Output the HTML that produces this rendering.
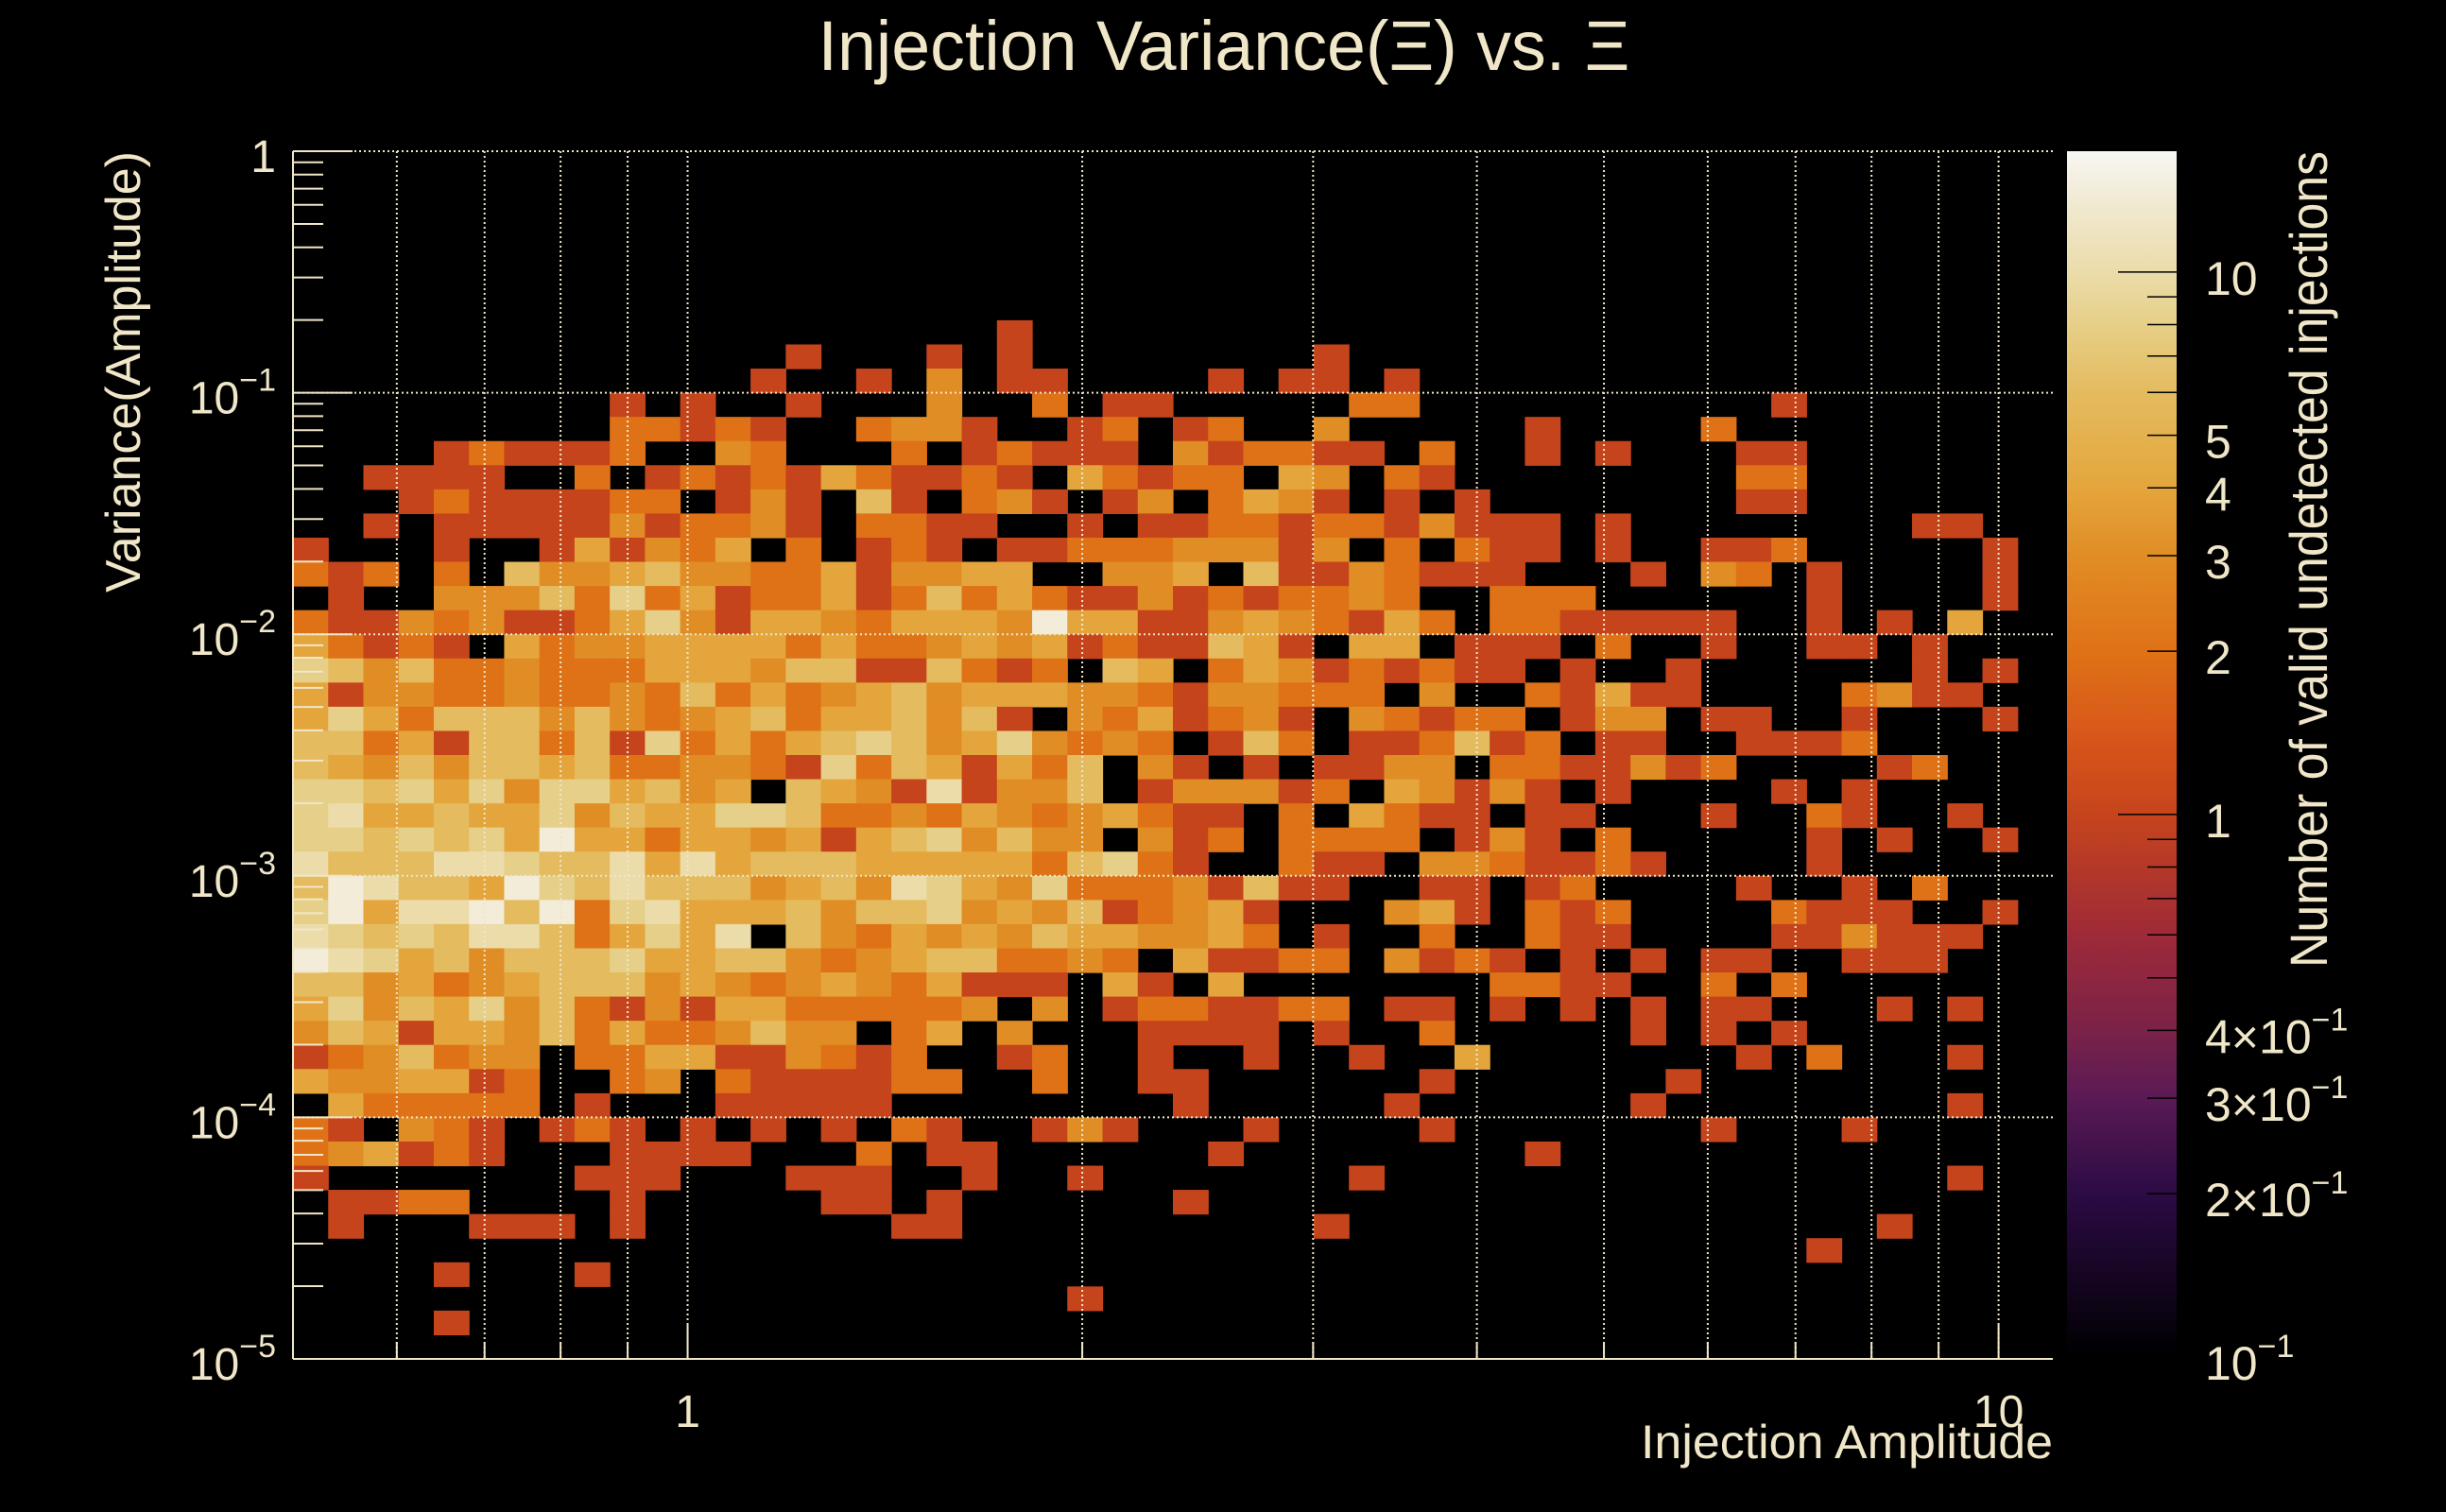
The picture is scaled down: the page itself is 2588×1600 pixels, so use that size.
<!DOCTYPE html>
<html>
<head>
<meta charset="utf-8">
<style>
  html,body{margin:0;padding:0;background:#000;}
  svg{display:block;}
  text{font-family:"Liberation Sans",Arial,sans-serif;fill:#f0e6c8;}
</style>
</head>
<body>
<svg id="chart" xmlns="http://www.w3.org/2000/svg" width="2588" height="1600" viewBox="0 0 2588 1600">
  <rect x="0" y="0" width="2588" height="1600" fill="#000"/>
  <text x="1295" y="74" font-size="74" text-anchor="middle" textLength="859" lengthAdjust="spacingAndGlyphs">Injection Variance(Ξ) vs. Ξ</text>
  <g id="cells"></g>
  <g id="grid"></g>
  <g id="axes"></g>
  <g id="cbar"></g>
  <text transform="translate(148,160) rotate(-90)" font-size="52" text-anchor="end" textLength="467" lengthAdjust="spacingAndGlyphs">Variance(Amplitude)</text>
  <text x="2172" y="1543" font-size="50" text-anchor="end" textLength="436" lengthAdjust="spacingAndGlyphs">Injection Amplitude</text>
  <text transform="translate(2462,160) rotate(-90)" font-size="56" text-anchor="end" textLength="864" lengthAdjust="spacingAndGlyphs">Number of valid undetected injections</text>
</svg>
<script>
// ---- data ----
const xRange = [0.5, 11];          // injection amplitude range (log bins)
const yRange = [1e-5, 1];          // variance range (log bins)
const nXBins = 50;
const nYBins = 50;
const zRange = [0.1, 16.7];        // colour scale range
const levelCounts = [0, 1, 2, 3, 4, 6, 8, 10, 14];   // code -> count
const xTickLabels = ["1", "10"];
const xTickValues = [1, 10];
const yTickExps = [0, -1, -2, -3, -4, -5];
const zTickValues = [10, 5, 4, 3, 2, 1, 0.4, 0.3, 0.2, 0.1];
const zTickLabels = ["10", "5", "4", "3", "2", "1", "4×10|−1", "3×10|−1", "2×10|−1", "10|−1"];
// row specs: index = row from top (0 = highest variance). "col:code" or "a-b:code"
const rowSpecs = [];
rowSpecs[7]  = "20:1";
rowSpecs[8]  = "14:1 18:1 20:1 29:1";
rowSpecs[9]  = "13:1 16:1 18:3 20-21:1 26:1 28-29:1 31:1";
rowSpecs[10] = "9:1 11:1 14:1 18:3 21:2 23-24:1 30-31:2 42:1";
rowSpecs[11] = "9-10:2 11:1 12:2 13:1 16:2 17-18:3 19:1 22:1 23:2 25:1 26:2 29:3 35:1 40:2";
rowSpecs[12] = "4:1 5:2 6-8:1 9:2 12:3 13:2 17:2 19:1 20:2 21-23:1 25:3 26:1 27-28:2 29-30:1 32:2 35:1 37:1 41-42:1";
rowSpecs[13] = "2-5:1 8:2 10:1 11:2 12:1 13:2 14:1 15:4 16:2 17-18:1 19:2 20:1 22:4 23:2 24:1 25-26:2 28:4 29:3 31:2 32:1 41-42:2";
rowSpecs[14] = "3:1 4:2 5-8:1 9-10:2 12:1 13:3 14:1 16:5 17:1 19:2 20:3 21:1 23:1 24:3 26:2 27:4 28:3 29:1 31:1 33:1 41-42:1";
rowSpecs[15] = "2:1 4-8:1 9:3 10:1 11-12:2 13:3 14:1 16-17:2 18-19:1 22:1 24:1 25:1 26-27:2 28:1 29-30:2 31:1 32:3 33-35:1 37:1 46-47:1";
rowSpecs[16] = "0:1 4:1 7:1 8:4 9:1 10:3 11:2 12:4 14:2 16:1 17:2 18:1 20-21:1 22-24:2 25-27:3 28:1 29:3 31:2 33:2 34-35:1 37:1 40-41:1 42:2 48:1";
rowSpecs[17] = "0:2 1:1 2:2 4:2 6:5 7-8:3 9:4 10:5 11-12:3 13-14:2 15:4 16:1 17-18:3 19-20:4 23-24:3 25:4 27:5 28-29:1 30:3 31:2 32-34:1 38:1 40:3 41:2 43:1 48:1";
rowSpecs[18] = "1:1 4-6:3 7:5 8:2 9:6 10:2 11:4 12:1 13-14:2 15:4 16:1 17:2 18:5 19:2 20:4 21:2 22-23:1 24:3 25:1 26:2 27:1 28-29:2 30:3 31:2 34-36:2 43:1 48:1";
rowSpecs[19] = "0:2 1-2:1 3:3 4:2 5:3 6-7:1 8:2 9:4 10:6 11:3 12:1 13-14:4 15:3 16:2 17-19:4 20:3 21:8 22-23:4 24-25:1 26:3 27:4 28:3 29:2 30:1 31:4 32:2 34-35:2 36-40:1 43:1 45:1 47:4";
rowSpecs[20] = "0:4 1:2 2:1 3:2 4:1 6:4 7:2 8-9:3 10-13:4 14:2 15:4 16-17:2 18:3 19:4 20:3 21:4 22:1 23:2 24-25:1 26:5 27:4 28:1 30-31:4 33-35:1 37:2 40:1 43-44:1 46:1";
rowSpecs[21] = "0:6 1:5 2:3 3:5 4-5:2 6:3 7-9:2 10-12:4 13:3 14-15:5 16-17:1 18:5 19:2 20:1 21:2 23:5 24:4 26:2 27:4 28:3 29:1 30:2 31:1 32:2 33-34:1 36:1 39:1 46:1 48:1";
rowSpecs[22] = "0:4 1:1 2-3:3 4-5:2 6:3 7-8:2 9:3 10:2 11:5 12:2 13:4 14:2 15:3 16:4 17:5 18:3 19-21:4 22-23:3 24:2 25:1 26-27:3 28-30:2 32:3 35:2 36:1 37:4 38-39:1 44:2 45:3 46-47:1";
rowSpecs[23] = "0:4 1:6 2:4 3:2 4-6:5 7:3 8:5 9:3 10:2 11:3 12:4 13:5 14:2 15-16:4 17:5 18:3 19:5 20:1 22:3 23:2 24:4 25:1 26:2 27:3 28:1 30:3 31:2 32:1 33-34:2 36:1 37-38:3 40-41:1 44:1 48:1";
rowSpecs[24] = "0-1:5 2:2 3:4 4:1 5-6:5 7:2 8:5 9:1 10:6 11:2 12:4 13:2 14:4 15:5 16:6 17:5 18:3 19:4 20:6 21:3 22:2 23:3 24:2 26:1 27:5 28:2 30-31:1 32:2 33:5 34:1 35:2 37-38:1 41-43:1 44:2";
rowSpecs[25] = "0:5 1:4 2:3 3:5 4:3 5-6:5 7:4 8:5 9-10:2 11-12:3 13:2 14:1 15:6 16:2 17:5 18:4 19:1 20:4 21:2 22:5 24:3 25:1 27:1 29-30:1 31-32:3 34-35:2 36-37:1 38:3 39:1 40:2 45:1 46:2";
rowSpecs[26] = "0-1:6 2:5 3:6 4:4 5:6 6:3 7-8:6 9:4 10:5 11:3 12:4 14:5 15:4 16:3 17:1 18:7 19:1 20-21:3 22:5 24:1 25-27:3 28:1 29:2 31:4 32:3 33:1 34:3 35:1 37:1 42:1 44:1";
rowSpecs[27] = "0:6 1:7 2-3:4 4:5 5-6:4 7:6 8:3 9:5 10-11:4 12-13:6 14:5 15-16:2 17:3 18:2 19:4 20:3 21:2 22:3 23:4 24:2 25-26:1 28:2 30:4 31:2 32-33:1 35-36:1 40:1 43:2 44:1 47:1";
rowSpecs[28] = "0-1:6 2:5 3:6 4:5 5:6 6:4 7:8 8-9:4 10:2 11-12:4 13:3 14:4 15:1 16:4 17:5 18:6 19:3 20:5 21-22:3 24:3 25:1 26:2 28-31:2 33:1 34:3 35:1 37:2 43:1 45:1 48:1";
rowSpecs[29] = "0:7 1-3:5 4-5:7 6:6 7-8:5 9:7 10:4 11:7 12:4 13-15:5 16-20:4 21:2 22:5 23:6 24:2 25:1 28:2 29-30:1 32-33:3 34:2 35-36:1 37:2 38:1 43:1";
rowSpecs[30] = "0:5 1:8 2:7 3-4:5 5:4 6:8 7:6 8:5 9:7 10-12:5 13:3 14:4 15:5 16:3 17:7 18:6 19:4 20:3 21:6 22-24:2 25:3 26:1 27:5 28-29:1 32-33:1 35:1 36:2 41:1 44:1 46:2";
rowSpecs[31] = "0:6 1:8 2:4 3-4:7 5:8 6:5 7:8 8:2 9:6 10:7 11-13:4 14:5 15:3 16-17:5 18:6 19:3 20:4 21:3 22:5 23:1 24:2 25:3 26:4 27:1 31:3 32:4 33:1 35:2 36:1 37:2 42:2 43-45:1 48:1";
rowSpecs[32] = "0:7 1:6 2:5 3:6 4:5 5-6:7 7:5 8:2 9:4 10:6 11:4 12:7 14:5 15:3 16:2 17:4 18:3 19:4 20:3 21:5 22-23:4 24-25:3 26:4 27:2 29:1 32:2 35:2 36-37:1 42-43:1 44:3 45-47:1";
rowSpecs[33] = "0:8 1:7 2:6 3:4 4:5 5:3 6-8:5 9:6 10-11:4 12-13:5 14:3 15:2 16:3 17:4 18-19:5 20-21:2 22:3 23:2 25:4 26-27:1 28-29:2 31:3 32:1 33:2 34:1 36:1 38:1 40-41:1 44-46:1";
rowSpecs[34] = "0-1:5 2:3 3:4 4:2 5:3 6:4 7-9:5 10:3 11:4 12:3 13:2 14:3 15:4 16:3 17:2 18:4 19-21:1 23:4 24:1 26:4 34-35:2 36-37:1 40:2 42:2";
rowSpecs[35] = "0:4 1:6 2:3 3:5 4:4 5:6 6:3 7:5 8:2 9:1 10:3 11:1 12-13:4 14-18:2 19:3 21:3 23:1 24-25:2 26-27:1 28-29:2 31-32:1 34:1 36:1 38:1 40-41:1 45:1 47:1";
rowSpecs[36] = "0:3 1:5 2:4 3:1 4-5:4 6:3 7:5 8:2 9:4 10-11:2 12:3 13:5 14-15:3 17:2 18:4 20:3 24-27:1 29:1 32:2 38:1 40:1 42:1";
rowSpecs[37] = "0:1 1:2 2:3 3:5 4:2 5-6:3 8-9:2 10-11:4 12-13:1 14:3 15:2 16:1 17:2 20:1 21:2 24:1 27:1 30:1 33:4 41:1 43:2 47:1";
rowSpecs[38] = "0:4 1-2:3 3-4:4 5:1 6:2 9:2 10:3 12:2 13-16:1 17-18:2 21:2 24-25:1 32:1 39:1";
rowSpecs[39] = "1:4 2-6:2 8:1 12-16:1 25:1 31:1 38:1 47:1";
rowSpecs[40] = "0:2 1:1 3:3 4:2 5:1 7:1 8:2 9:1 11:1 13:1 15:1 17:2 18:1 21:1 22:3 23:1 27:1 32:1 40:1 44:1";
rowSpecs[41] = "0:2 1:3 2:4 3:1 4:2 5:1 9-12:1 16:2 18-19:1 26:1 35:1";
rowSpecs[42] = "0:1 8-10:1 14-16:1 19:1 22:1 30:1 47:1";
rowSpecs[43] = "1-2:1 3-4:2 9:1 15-16:1 18:1 25:1";
rowSpecs[44] = "1:1 5-7:1 9:1 17-18:1 29:1 45:1";
rowSpecs[45] = "43:1";
rowSpecs[46] = "4:1 8:1";
rowSpecs[47] = "22:1";
rowSpecs[48] = "4:1";

// ---- layout ----
const NS = "http://www.w3.org/2000/svg";
const P = {x0: 310, x1: 2172, y0: 160, y1: 1438};
const CB = {x0: 2187, x1: 2303, y0: 160, y1: 1436};
const CREAM = "#f0e6c8";
const L10 = Math.log10;
function xScale(v){ return P.x0 + (L10(v) - L10(xRange[0])) / (L10(xRange[1]) - L10(xRange[0])) * (P.x1 - P.x0); }
function yScale(v){ return P.y1 - (L10(v) - L10(yRange[0])) / (L10(yRange[1]) - L10(yRange[0])) * (P.y1 - P.y0); }
function zFrac(v){ return (L10(v) - L10(zRange[0])) / (L10(zRange[1]) - L10(zRange[0])); }
function zScaleY(v){ return CB.y1 - zFrac(v) * (CB.y1 - CB.y0); }

const cmapStops = [
  [0.1,"#000000"],[0.2,"#2c0b44"],[0.3,"#5a1a55"],[0.4,"#7a2248"],[0.6,"#9e2a38"],
  [1,"#c6441c"],[1.4,"#d8571a"],[2,"#df7216"],[3,"#e18d25"],[4,"#e4a63c"],
  [6,"#e4bb5f"],[8,"#e6cf88"],[10,"#ebdcaa"],[14,"#f2ecd8"],[16.7,"#f7f6f4"]
];
function hex2rgb(h){ return [parseInt(h.substr(1,2),16),parseInt(h.substr(3,2),16),parseInt(h.substr(5,2),16)]; }
function colorFor(v){
  const t = zFrac(Math.max(zRange[0], Math.min(zRange[1], v)));
  for (let i = 0; i < cmapStops.length - 1; i++){
    const a = zFrac(cmapStops[i][0]), b = zFrac(cmapStops[i+1][0]);
    if (t <= b || i === cmapStops.length - 2){
      const f = Math.max(0, Math.min(1, (t - a) / (b - a)));
      const c1 = hex2rgb(cmapStops[i][1]), c2 = hex2rgb(cmapStops[i+1][1]);
      const c = c1.map((c, k) => Math.round(c + (c2[k] - c) * f));
      return "rgb(" + c.join(",") + ")";
    }
  }
}
function mk(tag, attrs, parent){
  const e = document.createElementNS(NS, tag);
  for (const k in attrs) e.setAttribute(k, attrs[k]);
  parent.appendChild(e);
  return e;
}

// ---- decode grid ----
function parseRow(spec){
  const row = new Array(nXBins).fill(0);
  if (!spec) return row;
  spec.trim().split(/\s+/).forEach(tok => {
    const [rng, code] = tok.split(":");
    const parts = rng.split("-").map(Number);
    const a = parts[0], b = parts.length > 1 ? parts[1] : parts[0];
    for (let c = a; c <= b; c++) row[c] = levelCounts[Number(code)];
  });
  return row;
}

// ---- cells ----
const cellsG = document.getElementById("cells");
const lxMin = L10(xRange[0]), lxStep = (L10(xRange[1]) - L10(xRange[0])) / nXBins;
const lyMax = L10(yRange[1]), lyStep = (L10(yRange[1]) - L10(yRange[0])) / nYBins;
for (let r = 0; r < nYBins; r++){
  const counts = parseRow(rowSpecs[r]);
  const yTopV = Math.pow(10, lyMax - r * lyStep);
  const yBotV = Math.pow(10, lyMax - (r + 1) * lyStep);
  for (let c = 0; c < nXBins; c++){
    const v = counts[c];
    if (!v) continue;
    const xa = xScale(Math.pow(10, lxMin + c * lxStep));
    const xb = xScale(Math.pow(10, lxMin + (c + 1) * lxStep));
    const ya = yScale(yTopV), yb = yScale(yBotV);
    const rect = mk("rect", {x: xa.toFixed(2), y: ya.toFixed(2), width: (xb - xa + 0.6).toFixed(2), height: (yb - ya + 0.6).toFixed(2), fill: colorFor(v)}, cellsG);
    
    
  }
}

// ---- grid lines ----
const gridG = document.getElementById("grid");
const xGridVals = [0.6,0.7,0.8,0.9,1,2,3,4,5,6,7,8,9,10];
xGridVals.forEach(v => {
  const x = xScale(v);
  const l = mk("line", {x1: x, x2: x, y1: P.y0, y2: P.y1, stroke: CREAM, "stroke-width": 2, "stroke-dasharray": "2 3"}, gridG);
  
  
});
yTickExps.forEach(e => {
  if (e === -5) return;
  const y = yScale(Math.pow(10, e));
  const l = mk("line", {x1: P.x0, x2: P.x1, y1: y, y2: y, stroke: CREAM, "stroke-width": 2, "stroke-dasharray": "2 3"}, gridG);
  
  
});

// ---- axes ----
const axesG = document.getElementById("axes");
const yAxis = mk("line", {x1: P.x0, x2: P.x0, y1: P.y0, y2: P.y1, stroke: CREAM, "stroke-width": 2}, axesG);


const xAxis = mk("line", {x1: P.x0, x2: P.x1, y1: P.y1, y2: P.y1, stroke: CREAM, "stroke-width": 2}, axesG);


for (let e = -5; e <= 0; e++){
  for (let m = 1; m <= 9; m++){
    const v = m * Math.pow(10, e);
    if (v > 1.0001) break;
    const y = yScale(v);
    const len = m === 1 ? 63 : 32;
    const t = mk("line", {x1: P.x0, x2: P.x0 + len, y1: y, y2: y, stroke: CREAM, "stroke-width": 2}, axesG);
    
    
  }
}
yTickExps.forEach(e => {
  const y = yScale(Math.pow(10, e)) + 22;
  const tx = mk("text", {x: 292, y: y, "font-size": 48, "text-anchor": "end"}, axesG);
  
  
  if (e === 0){ tx.textContent = "1"; }
  else {
    const a = mk("tspan", {}, tx); a.textContent = "10";
    const b = mk("tspan", {dy: -24, "font-size": 34}, tx); b.textContent = "−" + (-e);
  }
});
xGridVals.forEach(v => {
  const x = xScale(v);
  const major = (v === 1 || v === 10);
  const t = mk("line", {x1: x, x2: x, y1: P.y1, y2: P.y1 - (major ? 36 : 18), stroke: CREAM, "stroke-width": 2}, axesG);
  
  
});
xTickValues.forEach((v, i) => {
  const tx = mk("text", {x: xScale(v), y: 1510, "font-size": 48, "text-anchor": "middle"}, axesG);
  tx.textContent = xTickLabels[i];
  
  
});

// ---- colour bar ----
const cbG = document.getElementById("cbar");
const defs = mk("defs", {}, cbG);
const grad = mk("linearGradient", {id: "cbgrad", x1: 0, y1: 1, x2: 0, y2: 0}, defs);
for (let i = 0; i <= 60; i++){
  const f = i / 60;
  const v = Math.pow(10, L10(zRange[0]) + f * (L10(zRange[1]) - L10(zRange[0])));
  mk("stop", {offset: f, "stop-color": colorFor(v)}, grad);
}
const bar = mk("rect", {x: CB.x0, y: CB.y0, width: CB.x1 - CB.x0, height: CB.y1 - CB.y0, fill: "url(#cbgrad)"}, cbG);


for (let e = -1; e <= 1; e++){
  for (let m = 1; m <= 9; m++){
    const v = m * Math.pow(10, e);
    if (v <= zRange[0] || v > zRange[1]) continue;
    const y = zScaleY(v);
    const len = m === 1 ? 62 : 31;
    const t = mk("line", {x1: CB.x1 - len, x2: CB.x1, y1: y, y2: y, stroke: "#000", "stroke-width": 1.5}, cbG);
    
    
  }
}
zTickValues.forEach((v, i) => {
  const y = Math.min(zScaleY(v) + 24, 1474);
  const tx = mk("text", {x: 2333, y: y, "font-size": 50}, cbG);
  
  
  const parts = zTickLabels[i].split("|");
  const a = mk("tspan", {}, tx); a.textContent = parts[0];
  if (parts.length > 1){
    const b = mk("tspan", {dy: -24, "font-size": 34}, tx); b.textContent = parts[1];
  }
});
</script>
</body>
</html>
